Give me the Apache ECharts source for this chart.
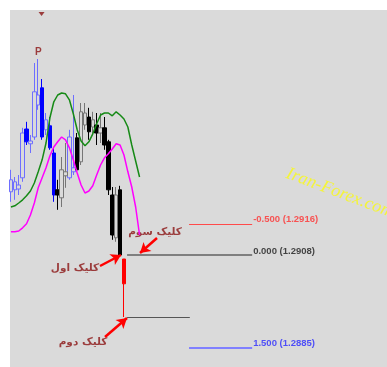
<!DOCTYPE html>
<html><head><meta charset="utf-8">
<script src="https://cdn.jsdelivr.net/npm/echarts@6/dist/echarts.min.js"></script>
<style>html,body{margin:0;padding:0;background:#fff}#c{width:387px;height:367px}</style>
</head><body><div id="c"></div>
<script>
// ---- candle data (price) ----
const opens  = [1.29238,1.29243,1.29245,1.29273,1.29395,1.29358,1.29375,1.29455,1.29498,1.29393,1.29403,1.29335,1.29243,1.29223,1.29278,1.29273,1.29288,1.29373,1.29313,1.29405,1.29425,1.29400,1.29405,1.29385,1.29398,1.29363,1.29230,1.29123,1.29243,1.29070];
const closes = [1.29268,1.29263,1.29255,1.29385,1.29363,1.29365,1.29488,1.29480,1.29375,1.29418,1.29348,1.29230,1.29230,1.29293,1.29288,1.29375,1.29298,1.29293,1.29438,1.29435,1.29388,1.29418,1.29385,1.29398,1.29355,1.29243,1.29130,1.29230,1.29080,1.29008];
const lows   = [1.29213,1.29218,1.29230,1.29263,1.29355,1.29335,1.29368,1.29443,1.29368,1.29380,1.29343,1.29213,1.29193,1.29200,1.29248,1.29268,1.29280,1.29288,1.29305,1.29393,1.29368,1.29380,1.29355,1.29360,1.29343,1.29230,1.29118,1.29113,1.29078,1.28925];
const highs  = [1.29293,1.29275,1.29280,1.29398,1.29413,1.29380,1.29560,1.29570,1.29520,1.29435,1.29425,1.29348,1.29268,1.29325,1.29360,1.29393,1.29480,1.29385,1.29460,1.29460,1.29448,1.29438,1.29435,1.29435,1.29425,1.29368,1.29250,1.29250,1.29253,1.29070];
const candleGroup = ['b','b','b','b','b','b','b','b','b','b','b','b','k','k','k','b','b','k','k','k','k','k','k','k','k','k','k','k','k','r'];

// ---- indicator lines (price) ----
const green   = [1.29200,1.29203,1.29210,1.29218,1.29228,1.29240,1.29260,1.29288,1.29318,1.29360,1.29423,1.29463,1.29480,1.29485,1.29483,1.29468,1.29433,1.29393,1.29365,1.29353,1.29363,1.29383,1.29408,1.29430,1.29435,1.29435,1.29428,1.29438,1.29430,1.29420,1.29400,1.29355,1.29315,1.29275];
const magenta = [1.29138,1.29138,1.29140,1.29148,1.29158,1.29180,1.29210,1.29248,1.29273,1.29298,1.29328,1.29350,1.29363,1.29375,1.29368,1.29348,1.29318,1.29285,1.29255,1.29235,1.29240,1.29253,1.29280,1.29305,1.29323,1.29333,1.29345,1.29358,1.29355,1.29330,1.29288,1.29250,1.29200,1.29130];

// ---- fibonacci levels ----
const fibPrices = [1.29158, 1.29080, 1.28925, 1.28848];
const fibLabels = ['-0.500 (1.2916)', '0.000 (1.2908)', '', '1.500 (1.2885)'];
const fibFrom   = [45.7, 29.8, 29.8, 45.7];
const fibTo     = [61.9, 61.9, 45.9, 61.9];

// ---- annotations ----
const notes      = ['کلیک سوم', 'کلیک اول', 'کلیک دوم'];
const noteX      = [36.96, 16.44, 18.49];
const notePrice  = [1.291375, 1.290475, 1.288625];
const arrowFrom  = [[37.48, 1.291225], [22.85, 1.290525], [24.13, 1.28875]];
const arrowTo    = [[33.12, 1.29085], [28.24, 1.29080], [29.78, 1.289225]];
const peakMark   = [7, 1.295875];
const topMark    = [7.85, 1.296825];

const N = 97;
const categories = [];
for (let i = 0; i < N; i++) categories.push(String(i));

const styles = {
  b: {color: '#dadada', color0: '#0000ff', borderColor: '#6e6eff', borderColor0: '#0000ff', borderWidth: 1},
  k: {color: '#dadada', color0: '#000000', borderColor: '#767676', borderColor0: '#000000', borderWidth: 1},
  r: {color: '#ff0000', color0: '#ff0000', borderColor: '#ff0000', borderColor0: '#ff0000', borderWidth: 1}
};
function groupData(g) {
  return opens.map((o, i) => candleGroup[i] === g
    ? [o, closes[i], lows[i], highs[i]]
    : ['-', '-', '-', '-']);
}
const candleSeries = ['b', 'k', 'r'].map(g => ({
  type: 'candlestick', xAxisIndex: 0, barWidth: 4, data: groupData(g), itemStyle: styles[g]
}));

const fibColors = ['#ff4a4a', '#606060', '#555555', '#8080ff'];
const fibWidths = [1, 1.5, 1, 2];
const fibTextColors = ['#ff3030', '#1a1a1a', '#1a1a1a', '#2a2aff'];

const fibLines = fibPrices.map((p, i) => [
  {coord: [fibFrom[i], p], lineStyle: {color: fibColors[i], width: fibWidths[i], type: 'solid'}},
  {coord: [fibTo[i], p]}
]);
const arrows = arrowFrom.map((a, i) => [{coord: a}, {coord: arrowTo[i]}]);

const chart = echarts.init(document.getElementById('c'));
chart.setOption({
  animation: false,
  graphic: [
    {type: 'rect', z: -100, shape: {x: 10, y: 10, width: 377, height: 357}, style: {fill: '#dadada'}},
    {type: 'text', z: -50, x: 340, y: 193, rotation: -0.36,
     style: {text: 'Iran-Forex.com', fill: '#f4f43a', font: 'italic 18px "Liberation Serif"', align: 'center', verticalAlign: 'middle'}}
  ],
  grid: {left: 9, right: 0, top: 10, bottom: 0},
  xAxis: [
    {type: 'category', data: categories, show: false, boundaryGap: true},
    {type: 'value', min: -0.5, max: N - 0.5, show: false}
  ],
  yAxis: {type: 'value', min: 1.2880, max: 1.296925, show: false, splitLine: {show: false}},
  series: candleSeries.concat([
    {type: 'line', data: green, symbol: 'none', xAxisIndex: 0, lineStyle: {color: '#168a16', width: 1.5}},
    {type: 'line', data: magenta, symbol: 'none', xAxisIndex: 0, lineStyle: {color: '#ff00ff', width: 1.5}},
    {
      type: 'scatter', xAxisIndex: 1, symbolSize: 0, silent: true,
      data: fibPrices.map((p, i) => ({
        value: [fibTo[i], p],
        label: {show: fibLabels[i] !== '', formatter: fibLabels[i], color: fibTextColors[i]}
      })),
      label: {position: 'right', distance: 1, offset: [0, -4], fontSize: 9.5, fontWeight: 'bold', fontFamily: 'Liberation Sans'},
      markLine: {silent: true, symbol: ['none', 'none'], label: {show: false}, animation: false, data: fibLines}
    },
    {
      type: 'scatter', xAxisIndex: 1, symbolSize: 0, silent: true,
      data: notes.map((t, i) => ({value: [noteX[i], notePrice[i]], label: {formatter: t}})),
      label: {show: true, position: 'inside', color: '#8b1414', fontSize: 10.5, fontWeight: 'bold', fontFamily: 'DejaVu Sans'},
      markLine: {silent: true, symbol: ['none', 'arrow'], symbolSize: [9, 10], label: {show: false}, animation: false,
        lineStyle: {color: '#ff0000', width: 2.5, type: 'solid'}, data: arrows}
    },
    {
      type: 'scatter', xAxisIndex: 1, symbolSize: 0, silent: true,
      data: [{value: peakMark, label: {formatter: 'P'}}],
      label: {show: true, position: 'inside', color: '#8b1414', fontSize: 10, fontWeight: 'bold', fontFamily: 'Liberation Sans'}
    },
    {
      type: 'scatter', xAxisIndex: 1, silent: true, symbol: 'triangle', symbolRotate: 180, symbolSize: [6, 4],
      itemStyle: {color: '#8b1414'}, data: [topMark]
    }
  ])
});
</script></body></html>
